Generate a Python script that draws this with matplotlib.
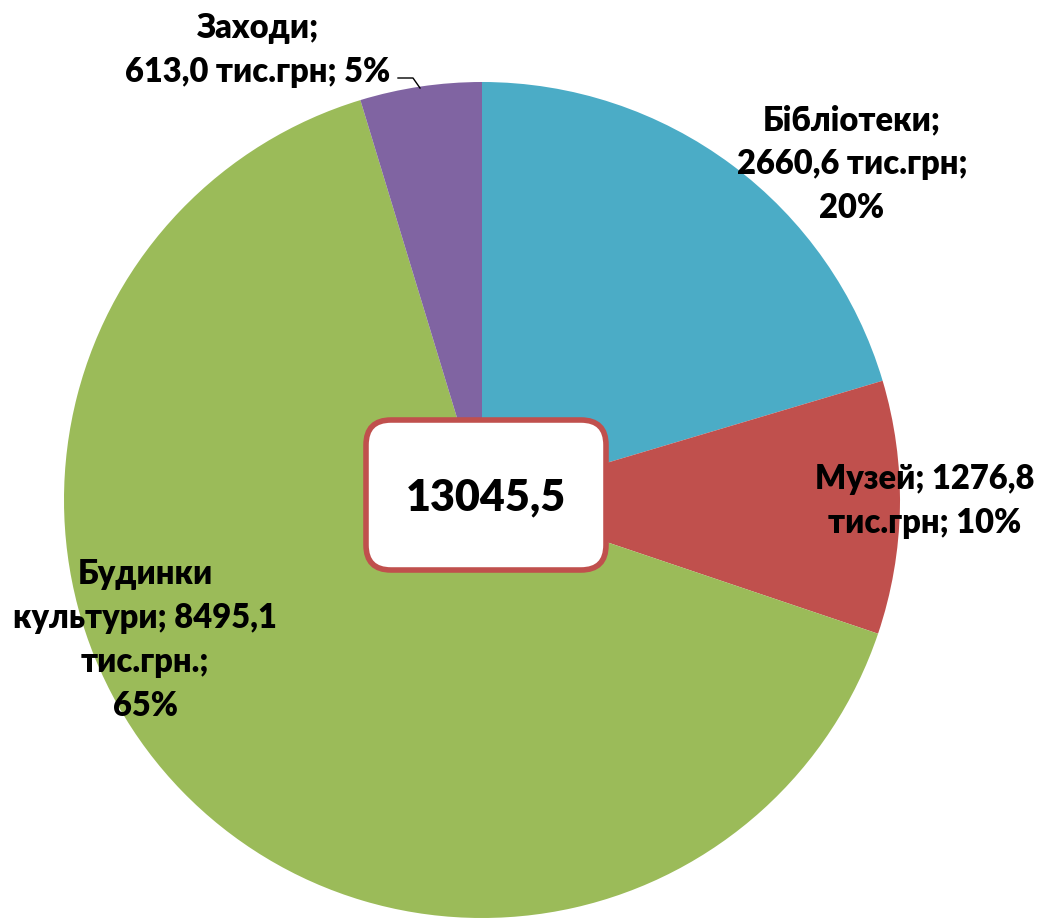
import matplotlib.pyplot as plt
from matplotlib.patches import FancyBboxPatch

categories = ["Бібліотеки", "Музей", "Будинки культури", "Заходи"]
values = [2660.6, 1276.8, 8495.1, 613.0]
colors = ["#4BACC6", "#C0504D", "#9BBB59", "#8064A2"]
labels = ["Бібліотеки;\n2660,6 тис.грн;\n20%",
          "Музей; 1276,8\nтис.грн; 10%",
          "Будинки\nкультури; 8495,1\nтис.грн.;\n65%",
          "Заходи;\n613,0 тис.грн; 5%"]
total_text = "13045,5"

plt.rcParams['font.family'] = ['Lato', 'DejaVu Sans']

fig = plt.figure(figsize=(10.45, 9.18), dpi=100)
ax = fig.add_axes([0, 0, 1, 1])

# pie in pixel-like coords, starts at top and runs clockwise
ax.pie(values, colors=colors, startangle=90, counterclock=False,
       center=(482, 418), radius=418, frame=True)
ax.set_xlim(0, 1045)
ax.set_ylim(0, 918)
ax.set_aspect('equal')
ax.axis('off')

# labels (positions)
pos = [(852, 754), (925, 417), (145, 278), (258, 868)]
for (x, y), t in zip(pos, labels):
    ax.text(x, y, t, ha='center', va='center', fontsize=23.5, fontweight='heavy',
            linespacing=1.45)

# leader line for Заходи
ax.plot([398, 413, 420], [840, 840, 830], color='black', lw=1)

# box with total in the middle
box = FancyBboxPatch((366, 348), 240, 150, boxstyle="round,pad=0,rounding_size=25",
                     facecolor='white', edgecolor='#C0504D', lw=4, zorder=5)
ax.add_patch(box)
ax.text(486, 421, total_text, ha='center', va='center', fontsize=31,
        fontweight='heavy', zorder=6)

fig.savefig("out.png", dpi=100)
